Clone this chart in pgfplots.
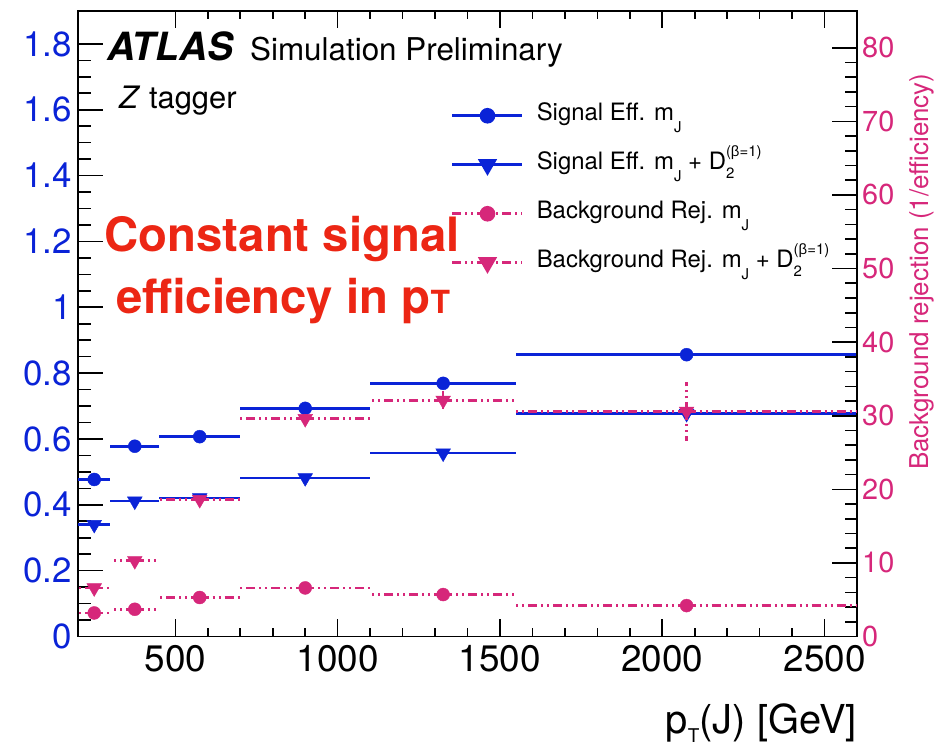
\documentclass[border=0pt]{standalone}
\usepackage{fontspec}
\setmainfont{TeX Gyre Heros}
\newfontfamily\greekf{Liberation Sans}
\usepackage{pgfplots}
\pgfplotsset{compat=1.18}
\usepackage{pgfplotstable}

\definecolor{effblue}{RGB}{10,35,215}
\definecolor{rejpink}{RGB}{214,39,122}
\definecolor{notered}{RGB}{236,38,20}

\newcommand\fs[1]{\fontsize{#1}{#1}\selectfont}
\newcommand\lowsub[1]{\raisebox{-12bp}{\fs{15}#1}}
\newcommand\Dtwo{D\rlap{\raisebox{-9bp}{\fs{15}2}}\raisebox{13bp}{\fs{15}({\greekf β}=1)}}

% signal efficiency, mass window only (bin centre, half width, efficiency)
\pgfplotstableread{
x    ex   y
250  50   0.477
375  75   0.578
575  125  0.607
900  200  0.693
1325 225  0.769
2075 525  0.856
}\sigmj
% signal efficiency, mass window + D2
\pgfplotstableread{
x    ex   y
250  50   0.340
375  75   0.411
575  125  0.421
900  200  0.482
1325 225  0.557
2075 525  0.677
}\sigdtwo
% background rejection, mass window only
\pgfplotstableread{
x    ex   y     ey
250  50   3.2   0.1
375  75   3.7   0.1
575  125  5.3   0.1
900  200  6.6   0.2
1325 225  5.7   0.2
2075 525  4.2   0.3
}\bkgmj
% background rejection, mass window + D2
\pgfplotstableread{
x    ex   y     ey
250  50   6.6   0.2
375  75   10.3  0.3
575  125  18.6  0.4
900  200  29.6  0.6
1325 225  32.1  1.5
2075 525  30.6  4.0
}\bkgdtwo

\pgfplotsset{
  common/.style={
    width=779bp, height=625.5bp, scale only axis,
    xmin=200, xmax=2600,
    tick align=inside,
    axis line style={line width=1.8bp},
    tick style={line width=1.6bp, black},
    /pgf/number format/assume math mode=true,
    /pgf/number format/1000 sep={},
  },
  hbins/.style={
    only marks, forget plot,
    error bars/x dir=both, error bars/x explicit, error bars/error mark=none,
    error bars/error bar style={#1},
  },
}

\begin{document}
\begin{tikzpicture}
% frame and transverse-momentum axis
\begin{axis}[common,
  ymin=0, ymax=1.9, ytick=\empty,
  xtick={500,1000,1500,2000,2500}, minor x tick num=4,
  xtick pos=both,
  major tick length=17bp, minor tick length=8.5bp,
  x tick label style={font=\fs{37}, inner sep=0pt, yshift=-8.5bp},
]
\coordinate (bl) at (rel axis cs:0,0);
\coordinate (tl) at (rel axis cs:0,1);
\coordinate (br) at (rel axis cs:1,0);
\end{axis}

% left scale: signal efficiency
\begin{axis}[common,
  ymin=0, ymax=1.9,
  axis x line=none, axis y line*=left,
  ytick={0,0.2,0.4,0.6,0.8,1,1.2,1.4,1.6,1.8}, minor y tick num=3,
  major tick length=25bp, minor tick length=12.5bp,
  y tick label style={font=\fs{35}, text=effblue, inner sep=0pt, xshift=-6bp},
]
\addplot[hbins={line width=2.6bp, effblue},
  mark=*, mark size=6.5bp, color=effblue]
  table[x=x, y=y, x error=ex] {\sigmj};
\addplot[hbins={line width=2.6bp, effblue},
  mark=triangle*, mark size=8.5bp, mark options={rotate=180}, color=effblue]
  table[x=x, y=y, x error=ex] {\sigdtwo};
\end{axis}

% right scale: background rejection
\begin{axis}[common,
  ymin=0, ymax=85,
  axis x line=none, axis y line*=right,
  ytick={0,10,20,30,40,50,60,70,80}, minor y tick num=4,
  major tick length=25bp, minor tick length=12.5bp,
  y tick label style={font=\fs{29}, text=rejpink, inner sep=0pt, xshift=5bp},
  legend style={at={(axis description cs:0.4788,0.852)}, anchor=north west,
    draw=none, fill=none, inner sep=0pt, row sep=25bp, column sep=13bp,
    font=\fs{24}, nodes={inner sep=0pt, text height=17bp, text depth=7bp},
    cells={anchor=west}},
  legend image code/.code={%
    \draw[mark repeat=2, mark phase=2, #1]
      plot coordinates {(0bp,0bp) (35bp,0bp) (70bp,0bp)};},
  rejline/.style={line width=2.6bp, rejpink,
    dash pattern=on 9bp off 4bp on 2bp off 4bp on 2bp off 4bp},
]
\addlegendimage{effblue, line width=2.6bp, mark=*, mark size=6.5bp}
\addlegendentry{Signal Eff. m\lowsub{J}}
\addlegendimage{effblue, line width=2.6bp, mark=triangle*, mark size=8.5bp, mark options={rotate=180}}
\addlegendentry{Signal Eff. m\lowsub{J} + \Dtwo}
\addlegendimage{rejline, mark=*, mark size=6.5bp, mark options={solid}}
\addlegendentry{Background Rej. m\lowsub{J}}
\addlegendimage{rejline, mark=triangle*, mark size=8.5bp, mark options={solid, rotate=180}}
\addlegendentry{Background Rej. m\lowsub{J} + \Dtwo}

\addplot[hbins={rejline},
  mark=*, mark size=6.5bp, color=rejpink]
  table[x=x, y=y, x error=ex] {\bkgmj};
\addplot[hbins={rejline}, error bars/y dir=both, error bars/y explicit,
  mark=triangle*, mark size=8.5bp, mark options={rotate=180}, color=rejpink]
  table[x=x, y=y, x error=ex, y error=ey] {\bkgdtwo};
\end{axis}

% labels
\node[anchor=base west, inner sep=0pt, font=\fs{39}\bfseries\itshape] at ([shift={(29bp,-50bp)}]tl) {ATLAS};
\node[anchor=base west, inner sep=0pt, font=\fs{31.5}] at ([shift={(172bp,-50bp)}]tl) {Simulation Preliminary};
\node[anchor=base west, inner sep=0pt, font=\fs{31}] at ([shift={(41bp,-98bp)}]tl) {\textit{Z} tagger};
\node[anchor=base, inner sep=0pt, font=\fs{47.5}\bfseries, text=notered] at ([shift={(204bp,-241bp)}]tl) {Constant signal};
\node[anchor=base, inner sep=0pt, font=\fs{47.5}\bfseries, text=notered] at ([shift={(205bp,-303bp)}]tl) {efficiency in p{\fs{32}T}};
\node[anchor=base east, inner sep=0pt, font=\fs{40}] at ([shift={(0bp,-96.5bp)}]br) {p\raisebox{-9bp}{\fs{19}T}(J) [GeV]};
\node[rotate=90, anchor=base west, inner sep=0pt, font=\fs{26}, text=rejpink] at ([shift={(71bp,166.5bp)}]br) {Background rejection (1/efficiency)};

\path (bl) ++(-78bp,-109.5bp) rectangle ++(936bp,746bp);
\end{tikzpicture}
\end{document}
